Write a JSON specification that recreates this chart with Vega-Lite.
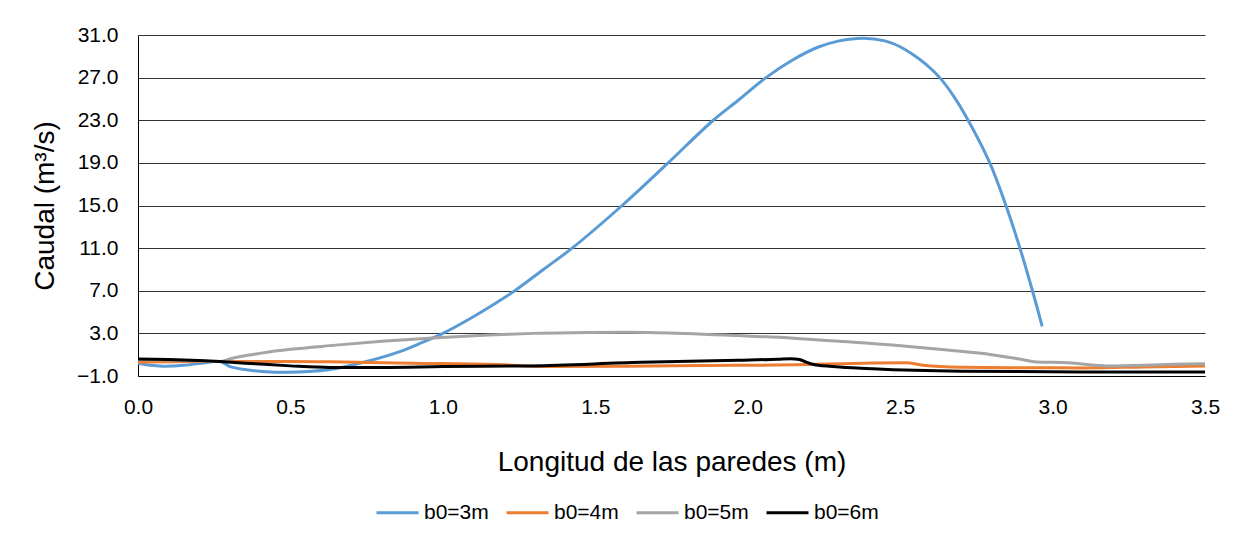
{
  "$schema": "https://vega.github.io/schema/vega-lite/v6.json",
  "autosize": {"type": "none"},
  "width": 1067,
  "height": 341,
  "padding": {"left": 138, "top": 35, "right": 38, "bottom": 157},
  "background": "white",
  "config": {
    "view": {"stroke": null},
    "font": "Liberation Sans",
    "axis": {"labelFont": "Liberation Sans", "titleFont": "Liberation Sans", "labelColor": "#000", "titleColor": "#000", "titleFontWeight": "normal", "domainColor": "#000", "domainWidth": 1}
  },
  "data": {"values": [
    {"serie": "b0=3m", "x": 0.0, "q": 0.2},
    {"serie": "b0=3m", "x": 0.04, "q": 0.0},
    {"serie": "b0=3m", "x": 0.08, "q": -0.08},
    {"serie": "b0=3m", "x": 0.15, "q": 0.0},
    {"serie": "b0=3m", "x": 0.22, "q": 0.25},
    {"serie": "b0=3m", "x": 0.27, "q": 0.35},
    {"serie": "b0=3m", "x": 0.3, "q": -0.1},
    {"serie": "b0=3m", "x": 0.35, "q": -0.4},
    {"serie": "b0=3m", "x": 0.42, "q": -0.6},
    {"serie": "b0=3m", "x": 0.49, "q": -0.65},
    {"serie": "b0=3m", "x": 0.56, "q": -0.58},
    {"serie": "b0=3m", "x": 0.63, "q": -0.4},
    {"serie": "b0=3m", "x": 0.74, "q": 0.29},
    {"serie": "b0=3m", "x": 0.847, "q": 1.17},
    {"serie": "b0=3m", "x": 0.92, "q": 2.0},
    {"serie": "b0=3m", "x": 1.0, "q": 3.0},
    {"serie": "b0=3m", "x": 1.09, "q": 4.4},
    {"serie": "b0=3m", "x": 1.177, "q": 5.9},
    {"serie": "b0=3m", "x": 1.236, "q": 7.0},
    {"serie": "b0=3m", "x": 1.33, "q": 9.0},
    {"serie": "b0=3m", "x": 1.424, "q": 11.0},
    {"serie": "b0=3m", "x": 1.588, "q": 15.0},
    {"serie": "b0=3m", "x": 1.739, "q": 19.0},
    {"serie": "b0=3m", "x": 1.887, "q": 23.0},
    {"serie": "b0=3m", "x": 1.97, "q": 24.9},
    {"serie": "b0=3m", "x": 2.06, "q": 27.0},
    {"serie": "b0=3m", "x": 2.15, "q": 28.7},
    {"serie": "b0=3m", "x": 2.23, "q": 29.85},
    {"serie": "b0=3m", "x": 2.30, "q": 30.45},
    {"serie": "b0=3m", "x": 2.379, "q": 30.7},
    {"serie": "b0=3m", "x": 2.45, "q": 30.45},
    {"serie": "b0=3m", "x": 2.5, "q": 29.9},
    {"serie": "b0=3m", "x": 2.543, "q": 29.15},
    {"serie": "b0=3m", "x": 2.587, "q": 28.2},
    {"serie": "b0=3m", "x": 2.63, "q": 27.0},
    {"serie": "b0=3m", "x": 2.677, "q": 25.2},
    {"serie": "b0=3m", "x": 2.723, "q": 23.0},
    {"serie": "b0=3m", "x": 2.794, "q": 19.0},
    {"serie": "b0=3m", "x": 2.847, "q": 15.0},
    {"serie": "b0=3m", "x": 2.893, "q": 11.0},
    {"serie": "b0=3m", "x": 2.934, "q": 7.0},
    {"serie": "b0=3m", "x": 2.966, "q": 3.66},

    {"serie": "b0=4m", "x": 0.0, "q": 0.3},
    {"serie": "b0=4m", "x": 0.19, "q": 0.36},
    {"serie": "b0=4m", "x": 0.27, "q": 0.36},
    {"serie": "b0=4m", "x": 0.5, "q": 0.36},
    {"serie": "b0=4m", "x": 0.63, "q": 0.33},
    {"serie": "b0=4m", "x": 0.9, "q": 0.2},
    {"serie": "b0=4m", "x": 1.177, "q": 0.07},
    {"serie": "b0=4m", "x": 1.35, "q": -0.1},
    {"serie": "b0=4m", "x": 1.6, "q": -0.08},
    {"serie": "b0=4m", "x": 1.865, "q": -0.02},
    {"serie": "b0=4m", "x": 2.19, "q": 0.07},
    {"serie": "b0=4m", "x": 2.3, "q": 0.15},
    {"serie": "b0=4m", "x": 2.41, "q": 0.23},
    {"serie": "b0=4m", "x": 2.52, "q": 0.25},
    {"serie": "b0=4m", "x": 2.575, "q": 0.0},
    {"serie": "b0=4m", "x": 2.7, "q": -0.18},
    {"serie": "b0=4m", "x": 2.9, "q": -0.22},
    {"serie": "b0=4m", "x": 3.1, "q": -0.24},
    {"serie": "b0=4m", "x": 3.3, "q": -0.15},
    {"serie": "b0=4m", "x": 3.5, "q": -0.05},

    {"serie": "b0=5m", "x": 0.0, "q": 0.55},
    {"serie": "b0=5m", "x": 0.1, "q": 0.5},
    {"serie": "b0=5m", "x": 0.2, "q": 0.4},
    {"serie": "b0=5m", "x": 0.27, "q": 0.35},
    {"serie": "b0=5m", "x": 0.3, "q": 0.6},
    {"serie": "b0=5m", "x": 0.41, "q": 1.17},
    {"serie": "b0=5m", "x": 0.5, "q": 1.5},
    {"serie": "b0=5m", "x": 0.63, "q": 1.85},
    {"serie": "b0=5m", "x": 0.8, "q": 2.25},
    {"serie": "b0=5m", "x": 0.98, "q": 2.6},
    {"serie": "b0=5m", "x": 1.15, "q": 2.85},
    {"serie": "b0=5m", "x": 1.3, "q": 3.0},
    {"serie": "b0=5m", "x": 1.48, "q": 3.08},
    {"serie": "b0=5m", "x": 1.6, "q": 3.1},
    {"serie": "b0=5m", "x": 1.7, "q": 3.07},
    {"serie": "b0=5m", "x": 1.97, "q": 2.79},
    {"serie": "b0=5m", "x": 2.15, "q": 2.55},
    {"serie": "b0=5m", "x": 2.3, "q": 2.26},
    {"serie": "b0=5m", "x": 2.52, "q": 1.79},
    {"serie": "b0=5m", "x": 2.663, "q": 1.41},
    {"serie": "b0=5m", "x": 2.8, "q": 1.0},
    {"serie": "b0=5m", "x": 2.9, "q": 0.55},
    {"serie": "b0=5m", "x": 2.947, "q": 0.32},
    {"serie": "b0=5m", "x": 3.05, "q": 0.25},
    {"serie": "b0=5m", "x": 3.18, "q": -0.05},
    {"serie": "b0=5m", "x": 3.3, "q": 0.0},
    {"serie": "b0=5m", "x": 3.4, "q": 0.1},
    {"serie": "b0=5m", "x": 3.5, "q": 0.15},

    {"serie": "b0=6m", "x": 0.0, "q": 0.6},
    {"serie": "b0=6m", "x": 0.1, "q": 0.55},
    {"serie": "b0=6m", "x": 0.2, "q": 0.45},
    {"serie": "b0=6m", "x": 0.27, "q": 0.35},
    {"serie": "b0=6m", "x": 0.4, "q": 0.12},
    {"serie": "b0=6m", "x": 0.5, "q": -0.05},
    {"serie": "b0=6m", "x": 0.63, "q": -0.2},
    {"serie": "b0=6m", "x": 0.8, "q": -0.2},
    {"serie": "b0=6m", "x": 1.0, "q": -0.12},
    {"serie": "b0=6m", "x": 1.29, "q": -0.05},
    {"serie": "b0=6m", "x": 1.65, "q": 0.29},
    {"serie": "b0=6m", "x": 1.97, "q": 0.48},
    {"serie": "b0=6m", "x": 2.1, "q": 0.58},
    {"serie": "b0=6m", "x": 2.14, "q": 0.63},
    {"serie": "b0=6m", "x": 2.17, "q": 0.55},
    {"serie": "b0=6m", "x": 2.19, "q": 0.32},
    {"serie": "b0=6m", "x": 2.22, "q": 0.05},
    {"serie": "b0=6m", "x": 2.3, "q": -0.15},
    {"serie": "b0=6m", "x": 2.41, "q": -0.33},
    {"serie": "b0=6m", "x": 2.7, "q": -0.56},
    {"serie": "b0=6m", "x": 3.1, "q": -0.62},
    {"serie": "b0=6m", "x": 3.5, "q": -0.62}
  ]},
  "encoding": {
    "x": {
      "field": "x", "type": "quantitative",
      "scale": {"domain": [0, 3.5], "nice": false, "zero": false},
      "axis": {"title": "Longitud de las paredes (m)", "values": [0, 0.5, 1, 1.5, 2, 2.5, 3, 3.5], "format": ".1f", "grid": false, "ticks": false, "tickSize": 0, "labelFontSize": 21, "labelPadding": 20, "titleFontSize": 28, "titlePadding": 31, "labelFlush": false}
    },
    "y": {
      "field": "q", "type": "quantitative",
      "scale": {"domain": [-1, 31], "nice": false, "zero": false},
      "axis": {"title": "Caudal (m³/s)", "values": [-1, 3, 7, 11, 15, 19, 23, 27, 31], "format": ".1f", "grid": true, "gridColor": "#333", "gridWidth": 1, "ticks": false, "tickSize": 0, "labelFontSize": 21, "labelPadding": 20, "titleFontSize": 28, "titlePadding": 17}
    },
    "color": {
      "field": "serie", "type": "nominal",
      "scale": {"domain": ["b0=3m", "b0=4m", "b0=5m", "b0=6m"], "range": ["#5B9BD5", "#ED7D31", "#A5A5A5", "#000000"]},
      "legend": {"title": null, "orient": "none", "legendX": 237, "legendY": 455, "direction": "horizontal", "symbolType": "stroke", "symbolSize": 1764, "symbolStrokeWidth": 3, "labelFontSize": 21, "labelFont": "Liberation Sans", "labelColor": "#000", "labelOffset": 4, "columnPadding": 11}
    }
  },
  "layer": [
    {
      "transform": [{"filter": "datum.serie === 'b0=3m'"}],
      "mark": {"type": "line", "strokeWidth": 3, "interpolate": "catmull-rom", "clip": true}
    },
    {
      "transform": [{"filter": "datum.serie !== 'b0=3m'"}],
      "mark": {"type": "line", "strokeWidth": 3, "interpolate": "monotone", "clip": true}
    }
  ]
}
